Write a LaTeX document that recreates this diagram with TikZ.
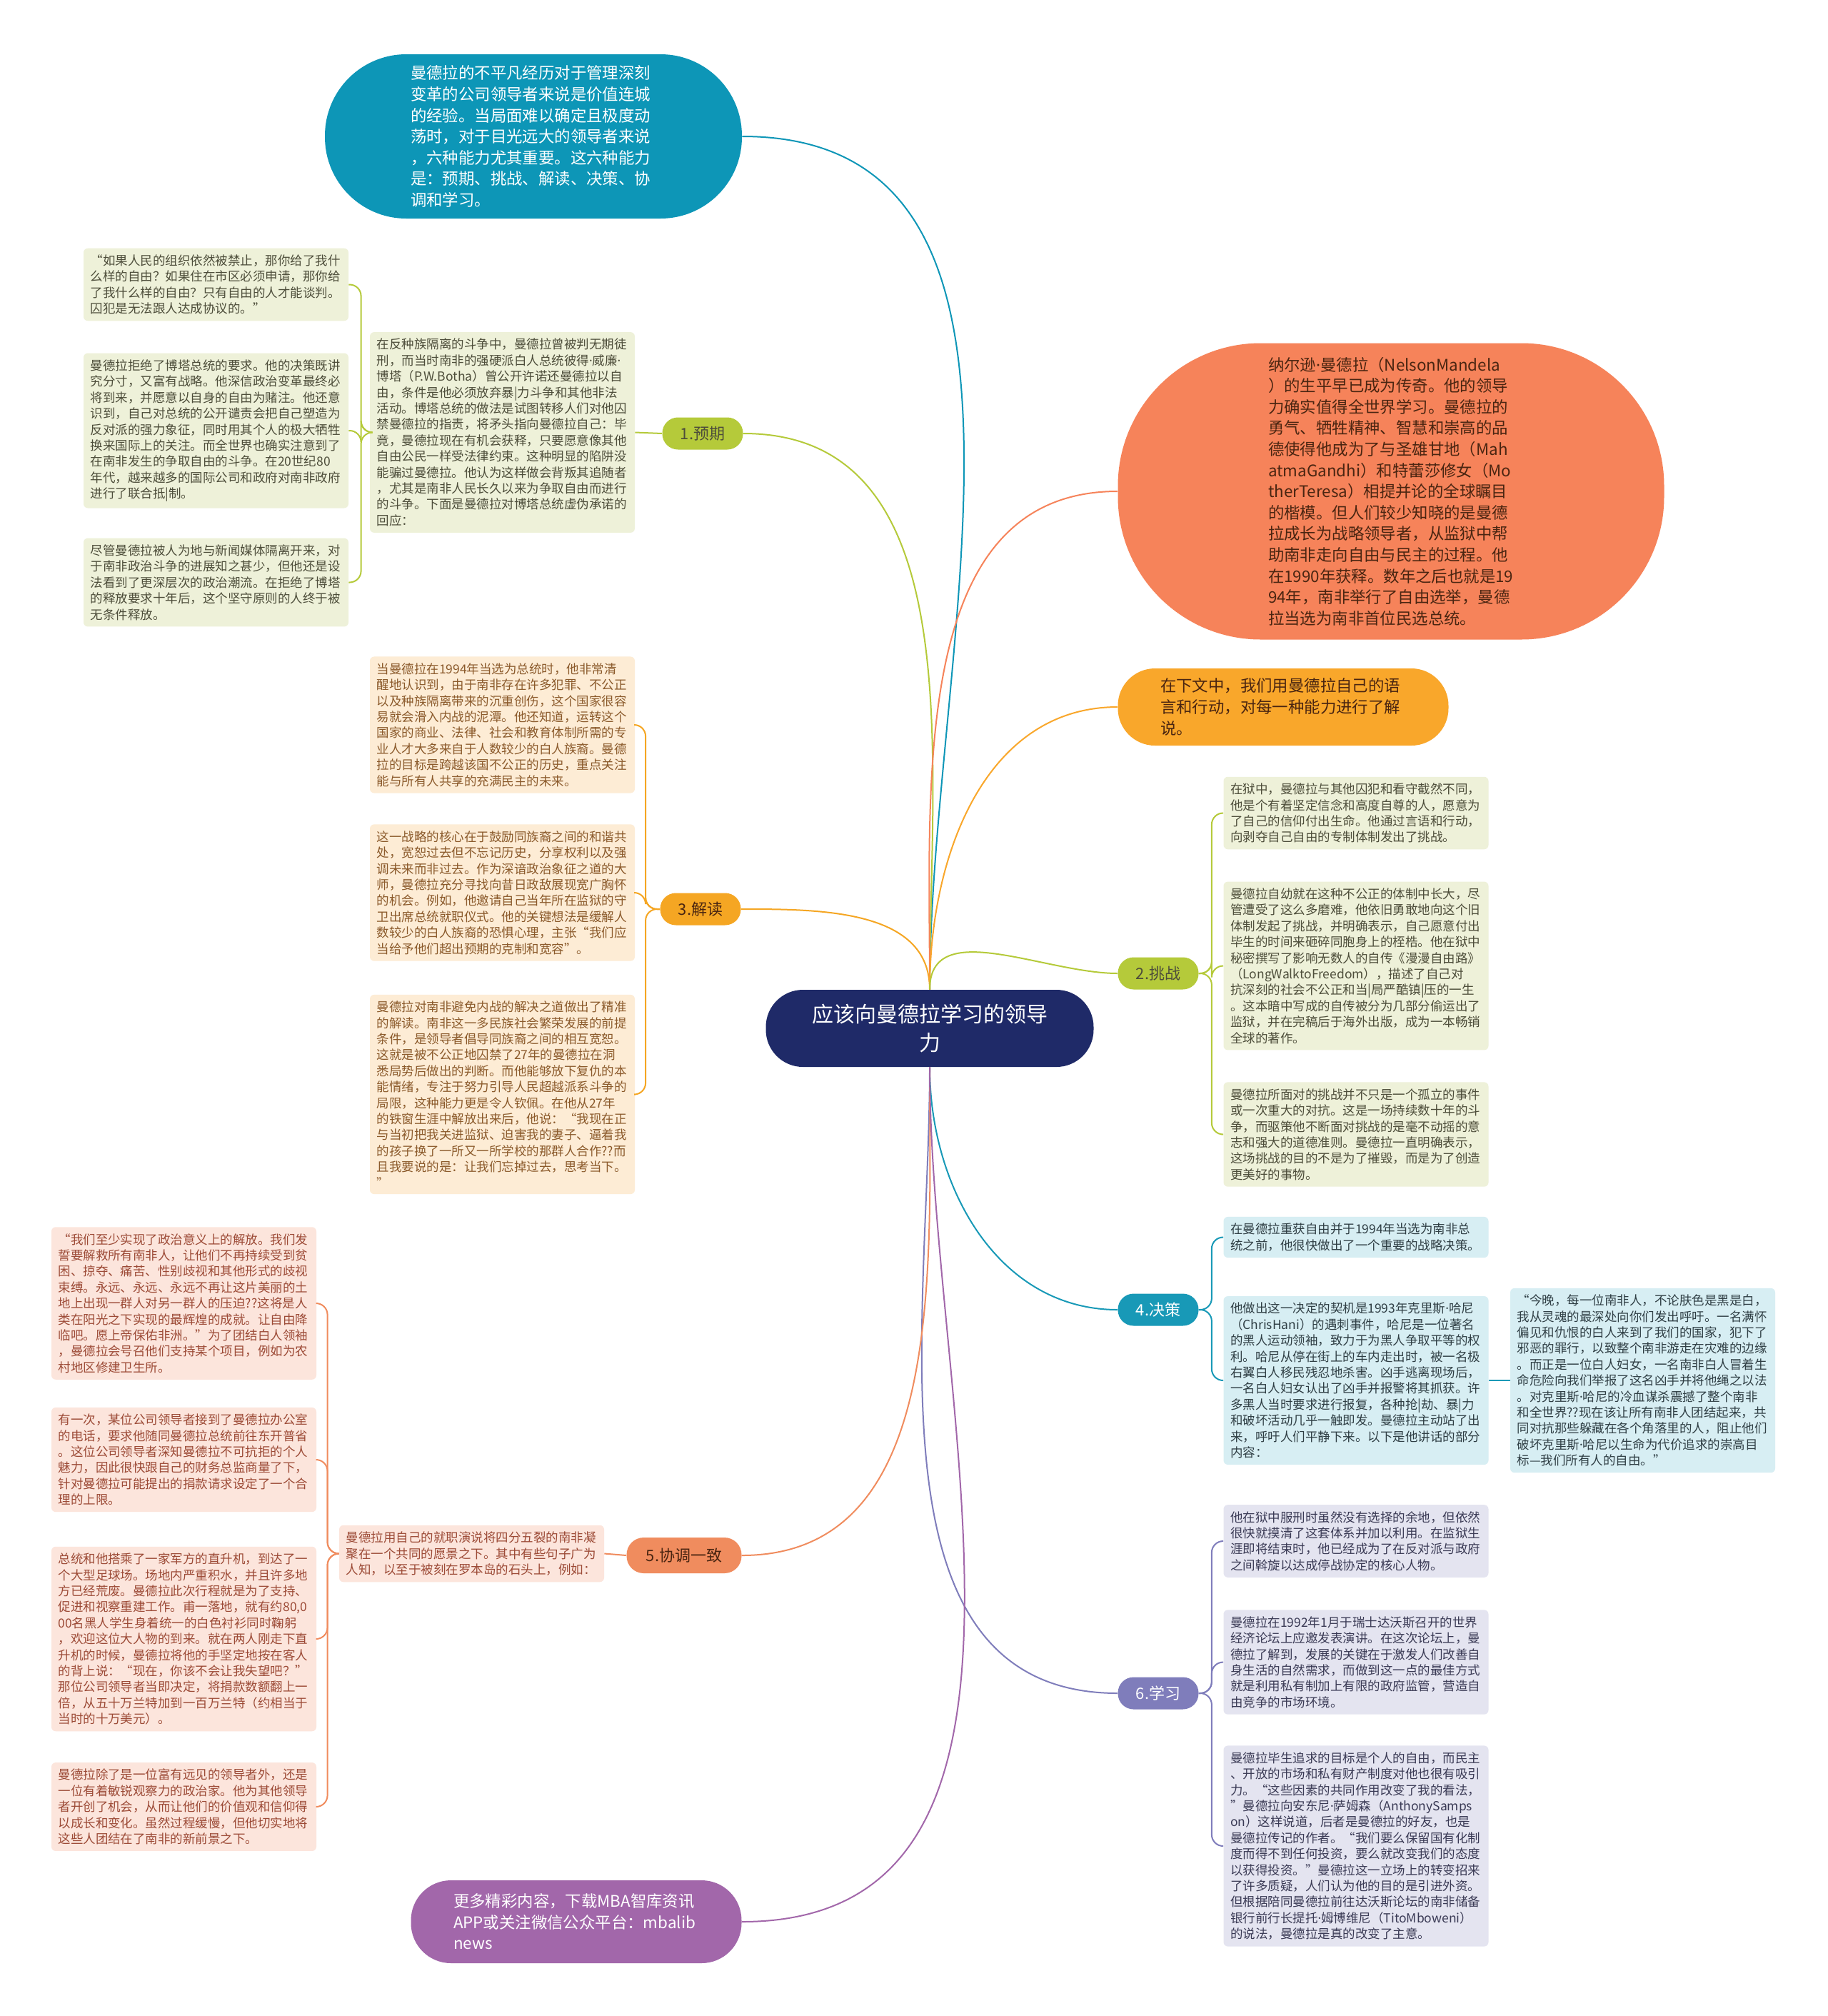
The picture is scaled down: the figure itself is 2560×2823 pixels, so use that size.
\documentclass[tikz,border=0pt]{standalone}
\usepackage{fontspec}
\setmainfont{Noto Sans CJK SC}
\newfontfamily\dotfont{Noto Sans}
\newcommand{\mdot}{{\dotfont ·}}

% main colours
\definecolor{navy}{HTML}{1F2A68}
\definecolor{introblue}{HTML}{0D96B7}
\definecolor{coral}{HTML}{F6835A}
\definecolor{gold}{HTML}{F9A72B}
\definecolor{violet}{HTML}{A267AA}
\definecolor{lime}{HTML}{B5CA3A}
\definecolor{amber}{HTML}{F5A623}
\definecolor{salmon}{HTML}{F08C5E}
\definecolor{teal}{HTML}{1899B7}
\definecolor{lilac}{HTML}{7F7DBB}
% leaf colours
\definecolor{limebg}{HTML}{EEF1D9}
\definecolor{amberbg}{HTML}{FDECD5}
\definecolor{salmonbg}{HTML}{FCE5DC}
\definecolor{tealbg}{HTML}{D7EEF3}
\definecolor{lilacbg}{HTML}{E4E4F0}
\definecolor{limetx}{HTML}{4D4D3A}
\definecolor{ambertx}{HTML}{8B5A2B}
\definecolor{salmontx}{HTML}{9C4A36}
\definecolor{tealtx}{HTML}{2F3E44}
\definecolor{lilactx}{HTML}{3A3A55}
\definecolor{coraltx}{HTML}{4A2511}

\tikzset{
  leaf/.style={rounded corners=3pt, inner xsep=4.75pt, inner ysep=4.5pt,
    text width=176pt, align=left, font=\fontsize{8.75}{11.2}\selectfont},
  bubble/.style={inner sep=0pt, text width=172pt, align=left,
    font=\fontsize{11.2}{14.8}\selectfont},
  branch/.style={rounded corners=11pt, minimum width=56.5pt, minimum height=22.5pt,
    inner sep=0pt, font=\fontsize{11}{13}\selectfont},
  link/.style={line width=1pt},
  brace/.style={line width=1pt, rounded corners=8pt},
}

\begin{document}
\begin{tikzpicture}[x=0.5pt,y=-0.5pt]
\fill[white] (0,0) rectangle (2560,2823);
\useasboundingbox (0,0) rectangle (2560,2823);

% centre
\node[fill=navy, text=white, rounded corners=26pt, minimum width=229.5pt, minimum height=54pt,
  align=center, font=\fontsize{15}{20}\selectfont] (c) at (1302,1440)
  {应该向曼德拉学习的领导\\力};

% big bubbles
\node[bubble, fill=introblue, text=white, rounded corners=57pt, minimum width=292pt, minimum height=115pt] (intro) at (747,191)
  {曼德拉的不平凡经历对于管理深刻\\变革的公司领导者来说是价值连城\\的经验。当局面难以确定且极度动\\荡时，对于目光远大的领导者来说\\，六种能力尤其重要。这六种能力\\是：预期、挑战、解读、决策、协\\调和学习。};
\node[bubble, fill=coral, text=coraltx, rounded corners=100pt, minimum width=382.5pt, minimum height=207.5pt] (bio) at (1948,688)
  {纳尔逊\mdot 曼德拉（NelsonMandela\\）的生平早已成为传奇。他的领导\\力确实值得全世界学习。曼德拉的\\勇气、牺牲精神、智慧和崇高的品\\德使得他成为了与圣雄甘地（Mah\\atmaGandhi）和特蕾莎修女（Mo\\therTeresa）相提并论的全球瞩目\\的楷模。但人们较少知晓的是曼德\\拉成长为战略领导者，从监狱中帮\\助南非走向自由与民主的过程。他\\在1990年获释。数年之后也就是19\\94年，南非举行了自由选举，曼德\\拉当选为南非首位民选总统。};
\node[bubble, fill=gold, text=coraltx, rounded corners=26pt, minimum width=231.5pt, minimum height=54pt] (note) at (1797,990)
  {在下文中，我们用曼德拉自己的语\\言和行动，对每一种能力进行了解\\说。};
\node[bubble, fill=violet, text=white, rounded corners=28pt, minimum width=231.5pt, minimum height=58pt] (more) at (807,2691)
  {更多精彩内容，下载MBA智库资讯\\APP或关注微信公众平台：mbalib\\news};

% branches
\node[branch, fill=lime, text=limetx] (b1) at (984,607) {1.预期};
\node[branch, fill=lime, text=limetx] (b2) at (1622,1363) {2.挑战};
\node[branch, fill=amber, text=coraltx] (b3) at (981,1273) {3.解读};
\node[branch, fill=teal, text=white] (b4) at (1622,1834) {4.决策};
\node[branch, fill=salmon, text=coraltx, minimum width=80.5pt, minimum height=25pt, rounded corners=12pt] (b5) at (958,2178) {5.协调一致};
\node[branch, fill=lilac, text=white] (b6) at (1622,2371) {6.学习};

% 1 预期
\node[leaf, fill=limebg, text=limetx] (L1m) at (703.5,605.5)
  {在反种族隔离的斗争中，曼德拉曾被判无期徒\\刑，而当时南非的强硬派白人总统彼得\mdot 威廉\mdot\\博塔（P.W.Botha）曾公开许诺还曼德拉以自\\由，条件是他必须放弃暴|力斗争和其他非法\\活动。博塔总统的做法是试图转移人们对他囚\\禁曼德拉的指责，将矛头指向曼德拉自己：毕\\竟，曼德拉现在有机会获释，只要愿意像其他\\自由公民一样受法律约束。这种明显的陷阱没\\能骗过曼德拉。他认为这样做会背叛其追随者\\，尤其是南非人民长久以来为争取自由而进行\\的斗争。下面是曼德拉对博塔总统虚伪承诺的\\回应：};
\node[leaf, fill=limebg, text=limetx] (L1a) at (302.5,398.5)
  {“如果人民的组织依然被禁止，那你给了我什\\么样的自由？如果住在市区必须申请，那你给\\了我什么样的自由？只有自由的人才能谈判。\\囚犯是无法跟人达成协议的。”};
\node[leaf, fill=limebg, text=limetx] (L1b) at (302.5,603)
  {曼德拉拒绝了博塔总统的要求。他的决策既讲\\究分寸，又富有战略。他深信政治变革最终必\\将到来，并愿意以自身的自由为赌注。他还意\\识到，自己对总统的公开谴责会把自己塑造为\\反对派的强力象征，同时用其个人的极大牺牲\\换来国际上的关注。而全世界也确实注意到了\\在南非发生的争取自由的斗争。在20世纪80\\年代，越来越多的国际公司和政府对南非政府\\进行了联合抵|制。};
\node[leaf, fill=limebg, text=limetx] (L1c) at (302.5,815.5)
  {尽管曼德拉被人为地与新闻媒体隔离开来，对\\于南非政治斗争的进展知之甚少，但他还是设\\法看到了更深层次的政治潮流。在拒绝了博塔\\的释放要求十年后，这个坚守原则的人终于被\\无条件释放。};

% 3 解读
\node[leaf, fill=amberbg, text=ambertx] (L3a) at (703.5,1015)
  {当曼德拉在1994年当选为总统时，他非常清\\醒地认识到，由于南非存在许多犯罪、不公正\\以及种族隔离带来的沉重创伤，这个国家很容\\易就会滑入内战的泥潭。他还知道，运转这个\\国家的商业、法律、社会和教育体制所需的专\\业人才大多来自于人数较少的白人族裔。曼德\\拉的目标是跨越该国不公正的历史，重点关注\\能与所有人共享的充满民主的未来。};
\node[leaf, fill=amberbg, text=ambertx] (L3b) at (703.5,1250)
  {这一战略的核心在于鼓励同族裔之间的和谐共\\处，宽恕过去但不忘记历史，分享权利以及强\\调未来而非过去。作为深谙政治象征之道的大\\师，曼德拉充分寻找向昔日政敌展现宽广胸怀\\的机会。例如，他邀请自己当年所在监狱的守\\卫出席总统就职仪式。他的关键想法是缓解人\\数较少的白人族裔的恐惧心理，主张“我们应\\当给予他们超出预期的克制和宽容”。};
\node[leaf, fill=amberbg, text=ambertx] (L3c) at (703.5,1532.5)
  {曼德拉对南非避免内战的解决之道做出了精准\\的解读。南非这一多民族社会繁荣发展的前提\\条件，是领导者倡导同族裔之间的相互宽恕。\\这就是被不公正地囚禁了27年的曼德拉在洞\\悉局势后做出的判断。而他能够放下复仇的本\\能情绪，专注于努力引导人民超越派系斗争的\\局限，这种能力更是令人钦佩。在他从27年\\的铁窗生涯中解放出来后，他说：“我现在正\\与当初把我关进监狱、迫害我的妻子、逼着我\\的孩子换了一所又一所学校的那群人合作??而\\且我要说的是：让我们忘掉过去，思考当下。\\”};

% 2 挑战
\node[leaf, fill=limebg, text=limetx] (L2a) at (1899,1138.5)
  {在狱中，曼德拉与其他囚犯和看守截然不同，\\他是个有着坚定信念和高度自尊的人，愿意为\\了自己的信仰付出生命。他通过言语和行动，\\向剥夺自己自由的专制体制发出了挑战。};
\node[leaf, fill=limebg, text=limetx] (L2b) at (1899,1352.5)
  {曼德拉自幼就在这种不公正的体制中长大，尽\\管遭受了这么多磨难，他依旧勇敢地向这个旧\\体制发起了挑战，并明确表示，自己愿意付出\\毕生的时间来砸碎同胞身上的桎梏。他在狱中\\秘密撰写了影响无数人的自传《漫漫自由路》\\（LongWalktoFreedom），描述了自己对\\抗深刻的社会不公正和当|局严酷镇|压的一生\\。这本暗中写成的自传被分为几部分偷运出了\\监狱，并在完稿后于海外出版，成为一本畅销\\全球的著作。};
\node[leaf, fill=limebg, text=limetx] (L2c) at (1899,1588.5)
  {曼德拉所面对的挑战并不只是一个孤立的事件\\或一次重大的对抗。这是一场持续数十年的斗\\争，而驱策他不断面对挑战的是毫不动摇的意\\志和强大的道德准则。曼德拉一直明确表示，\\这场挑战的目的不是为了摧毁，而是为了创造\\更美好的事物。};

% 4 决策
\node[leaf, fill=tealbg, text=tealtx] (L4a) at (1899,1732.5)
  {在曼德拉重获自由并于1994年当选为南非总\\统之前，他很快做出了一个重要的战略决策。};
\node[leaf, fill=tealbg, text=tealtx] (L4b) at (1899,1933)
  {他做出这一决定的契机是1993年克里斯\mdot 哈尼\\（ChrisHani）的遇刺事件，哈尼是一位著名\\的黑人运动领袖，致力于为黑人争取平等的权\\利。哈尼从停在街上的车内走出时，被一名极\\右翼白人移民残忍地杀害。凶手逃离现场后，\\一名白人妇女认出了凶手并报警将其抓获。许\\多黑人当时要求进行报复，各种抢|劫、暴|力\\和破坏活动几乎一触即发。曼德拉主动站了出\\来，呼吁人们平静下来。以下是他讲话的部分\\内容：};
\node[leaf, fill=tealbg, text=tealtx] (L4c) at (2300.5,1933)
  {“今晚，每一位南非人，不论肤色是黑是白，\\我从灵魂的最深处向你们发出呼吁。一名满怀\\偏见和仇恨的白人来到了我们的国家，犯下了\\邪恶的罪行，以致整个南非游走在灾难的边缘\\。而正是一位白人妇女，一名南非白人冒着生\\命危险向我们举报了这名凶手并将他绳之以法\\。对克里斯\mdot 哈尼的冷血谋杀震撼了整个南非\\和全世界??现在该让所有南非人团结起来，共\\同对抗那些躲藏在各个角落里的人，阻止他们\\破坏克里斯\mdot 哈尼以生命为代价追求的崇高目\\标—我们所有人的自由。”};

% 6 学习
\node[leaf, fill=lilacbg, text=lilactx] (L6a) at (1899,2158)
  {他在狱中服刑时虽然没有选择的余地，但依然\\很快就摸清了这套体系并加以利用。在监狱生\\涯即将结束时，他已经成为了在反对派与政府\\之间斡旋以达成停战协定的核心人物。};
\node[leaf, fill=lilacbg, text=lilactx] (L6b) at (1899,2327.5)
  {曼德拉在1992年1月于瑞士达沃斯召开的世界\\经济论坛上应邀发表演讲。在这次论坛上，曼\\德拉了解到，发展的关键在于激发人们改善自\\身生活的自然需求，而做到这一点的最佳方式\\就是利用私有制加上有限的政府监管，营造自\\由竞争的市场环境。};
\node[leaf, fill=lilacbg, text=lilactx] (L6c) at (1899,2585)
  {曼德拉毕生追求的目标是个人的自由，而民主\\、开放的市场和私有财产制度对他也很有吸引\\力。“这些因素的共同作用改变了我的看法，\\”曼德拉向安东尼\mdot 萨姆森（AnthonySamps\\on）这样说道，后者是曼德拉的好友，也是\\曼德拉传记的作者。“我们要么保留国有化制\\度而得不到任何投资，要么就改变我们的态度\\以获得投资。”曼德拉这一立场上的转变招来\\了许多质疑，人们认为他的目的是引进外资。\\但根据陪同曼德拉前往达沃斯论坛的南非储备\\银行前行长提托\mdot 姆博维尼（TitoMboweni）\\的说法，曼德拉是真的改变了主意。};

% 5 协调一致
\node[leaf, fill=salmonbg, text=salmontx] (L5m) at (660.5,2175.5)
  {曼德拉用自己的就职演说将四分五裂的南非凝\\聚在一个共同的愿景之下。其中有些句子广为\\人知，以至于被刻在罗本岛的石头上，例如：};
\node[leaf, fill=salmonbg, text=salmontx] (L5a) at (257.5,1825)
  {“我们至少实现了政治意义上的解放。我们发\\誓要解救所有南非人，让他们不再持续受到贫\\困、掠夺、痛苦、性别歧视和其他形式的歧视\\束缚。永远、永远、永远不再让这片美丽的土\\地上出现一群人对另一群人的压迫??这将是人\\类在阳光之下实现的最辉煌的成就。让自由降\\临吧。愿上帝保佑非洲。”为了团结白人领袖\\，曼德拉会号召他们支持某个项目，例如为农\\村地区修建卫生所。};
\node[leaf, fill=salmonbg, text=salmontx] (L5b) at (257.5,2044)
  {有一次，某位公司领导者接到了曼德拉办公室\\的电话，要求他随同曼德拉总统前往东开普省\\。这位公司领导者深知曼德拉不可抗拒的个人\\魅力，因此很快跟自己的财务总监商量了下，\\针对曼德拉可能提出的捐款请求设定了一个合\\理的上限。};
\node[leaf, fill=salmonbg, text=salmontx] (L5c) at (257.5,2295)
  {总统和他搭乘了一家军方的直升机，到达了一\\个大型足球场。场地内严重积水，并且许多地\\方已经荒废。曼德拉此次行程就是为了支持、\\促进和视察重建工作。甫一落地，就有约80,0\\00名黑人学生身着统一的白色衬衫同时鞠躬\\，欢迎这位大人物的到来。就在两人刚走下直\\升机的时候，曼德拉将他的手坚定地按在客人\\的背上说：“现在，你该不会让我失望吧？”\\那位公司领导者当即决定，将捐款数额翻上一\\倍，从五十万兰特加到一百万兰特（约相当于\\当时的十万美元）。};
\node[leaf, fill=salmonbg, text=salmontx] (L5d) at (257.5,2530)
  {曼德拉除了是一位富有远见的领导者外，还是\\一位有着敏锐观察力的政治家。他为其他领导\\者开创了机会，从而让他们的价值观和信仰得\\以成长和变化。虽然过程缓慢，但他切实地将\\这些人团结在了南非的新前景之下。};

% trunk links
\draw[link, introblue] (c.north) to[out=90,in=0] (intro.east);
\draw[link, lime] (c.north) to[out=90,in=0] (b1.east);
\draw[link, amber] (c.north) to[out=90,in=0] (b3.east);
\draw[link, coral] (c.north) to[out=90,in=180] (bio.west);
\draw[link, gold] (c.north) to[out=90,in=180] (note.west);
\draw[link, lime] (c.north) to[out=90,in=180] (b2.west);
\draw[link, teal] (c.south) to[out=-90,in=180] (b4.west);
\draw[link, lilac] (c.south) to[out=-90,in=180] (b6.west);
\draw[link, salmon] (c.south) to[out=-90,in=0] (b5.east);
\draw[link, violet] (c.south) to[out=-90,in=0] (more.east);

% leaf links
\draw[link, lime] (b1.west) -- (L1m.east);
\foreach \n in {L1a,L1b,L1c}
  \draw[brace, lime] (L1m.west) -- ++(-12,0) |- (\n.east);
\foreach \n in {L3a,L3b,L3c}
  \draw[brace, amber] (b3.west) -- ++(-20,0) |- (\n.east);
\foreach \n in {L2a,L2b,L2c}
  \draw[brace, lime] (b2.east) -- ++(18,0) |- (\n.west);
\foreach \n in {L4a,L4b}
  \draw[brace, teal] (b4.east) -- ++(18,0) |- (\n.west);
\draw[link, teal] (L4b.east) -- (L4c.west);
\foreach \n in {L6a,L6b,L6c}
  \draw[brace, lilac] (b6.east) -- ++(18,0) |- (\n.west);
\draw[link, salmon] (b5.west) -- (L5m.east);
\foreach \n in {L5a,L5b,L5c,L5d}
  \draw[brace, salmon] (L5m.west) -- ++(-16,0) |- (\n.east);
\end{tikzpicture}
\end{document}
